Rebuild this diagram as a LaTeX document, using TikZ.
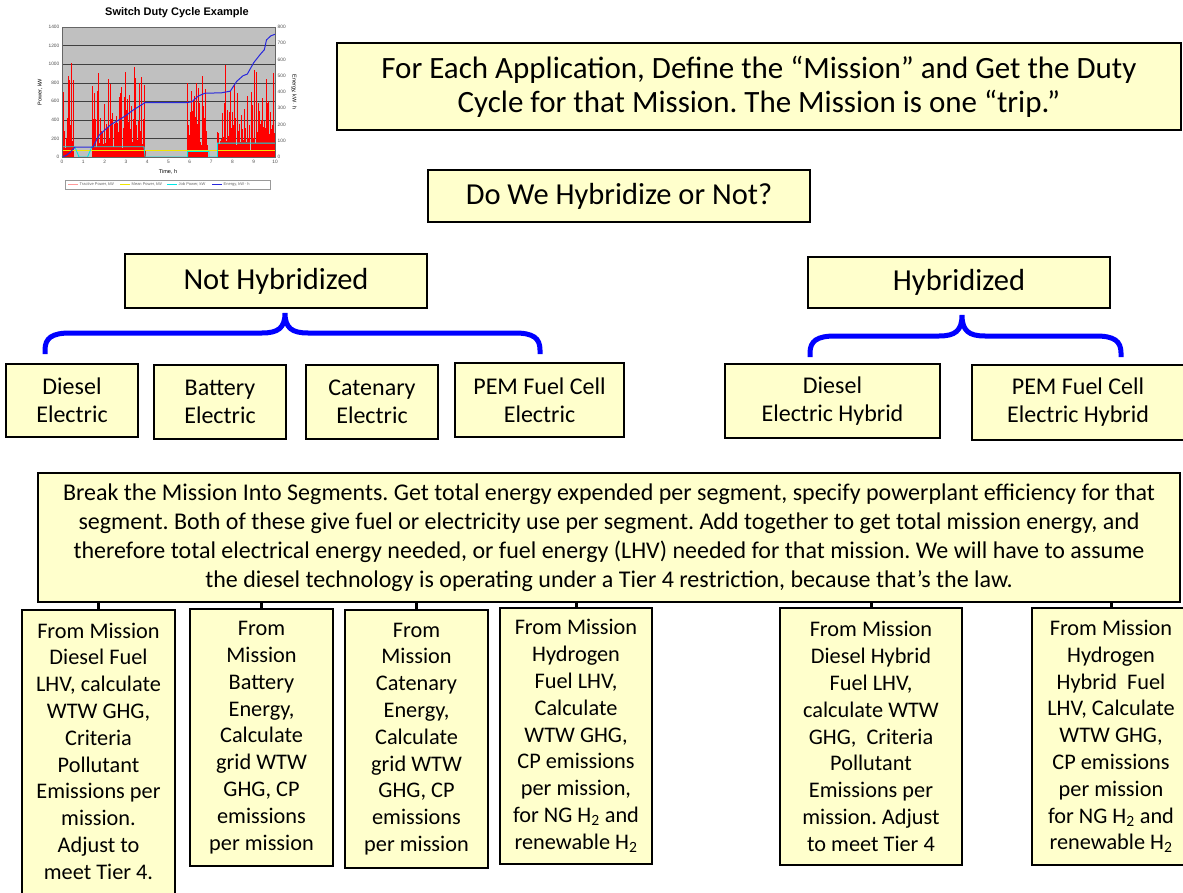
\documentclass[tikz,border=0pt]{standalone}
\usepackage{fontspec}
\setmainfont{Carlito}
\newfontfamily\chartfont{Liberation Sans}
\definecolor{boxfill}{RGB}{255,255,204}
\definecolor{plotgray}{RGB}{192,192,192}
\definecolor{braceblue}{RGB}{0,0,255}
\definecolor{jobcyan}{RGB}{0,230,230}
\definecolor{meanyellow}{RGB}{240,230,0}
\definecolor{energyblue}{RGB}{40,40,220}
\tikzset{
  box/.style={draw=black, line width=1.8pt, fill=boxfill, align=center, inner sep=0pt},
  fhuge/.style={font=\fontsize{31}{34}\selectfont},
  fbig/.style={font=\fontsize{30.5}{36}\selectfont},
  frow/.style={font=\fontsize{24}{28}\selectfont},
  fpara/.style={font=\fontsize{24}{29}\selectfont},
  fcol/.style={font=\fontsize{22.3}{26.8}\selectfont},
  brace/.style={draw=braceblue, line width=5pt},
  stem/.style={draw=black, line width=3pt},
  tick/.style={font=\chartfont\fontsize{4.8}{5}\selectfont, text=black!70, inner sep=0.5pt},
  legtext/.style={font=\chartfont\fontsize{4}{5}\selectfont, text=black!60, inner sep=0.5pt, anchor=west}
}
\begin{document}
\frenchspacing
\begin{tikzpicture}[x=1pt,y=-1pt]
\useasboundingbox (0,0) rectangle (1183,893);
\clip (0,0) rectangle (1183,893);

% ---------- chart ----------
\node[font=\chartfont\bfseries\fontsize{11}{12}\selectfont, inner sep=0pt] (ctitle) at (177,13) {Switch Duty Cycle Example};
\fill[plotgray] (62,27) rectangle (275,157);
\foreach \k in {1,...,6} \draw[black!75, line width=0.3pt] (62,{157-\k*130/7}) -- (275,{157-\k*130/7});
\begin{scope}[shift={(62,157)}, xscale=21.3, yscale=-0.0929]
  \pgfmathsetseed{7}
  \foreach \a/\b in {0/0.55, 1.4/3.9, 5.9/6.85, 7.3/10} {
    \pgfmathtruncatemacro{\N}{(\b-\a)/0.02}
    \foreach \n in {0,...,\N} {
      \pgfmathsetmacro{\t}{\a+0.02*\n}
      \pgfmathsetmacro{\h}{60+1050*rnd*rnd}
      \draw[red, line width=0.45pt] (\t,0) -- (\t,\h);
    }
  }
  \draw[meanyellow, line width=0.8pt] (0,68) -- (10,68);
  \draw[jobcyan, line width=0.9pt] (0,110) -- (0.6,110) -- (0.8,0) -- (1.2,0) -- (1.4,110) -- (3.85,110) -- (3.9,0) -- (5.9,0) -- (5.9,60) -- (6.9,60) -- (6.9,0) -- (7.3,0) -- (7.3,150) -- (10,150);
  \begin{scope}[yscale=1.75]
    \draw[energyblue, line width=1pt] (0,0) -- (0.2,10) -- (0.35,25) -- (0.6,60) -- (1.45,60) -- (1.6,100) -- (1.75,135) -- (2,165) -- (2.3,200) -- (2.7,230) -- (3,255) -- (3.3,285) -- (3.6,310) -- (3.9,335) -- (5.9,335) -- (6.1,340) -- (6.4,375) -- (6.7,392) -- (7.5,395) -- (7.9,405) -- (8.2,465) -- (8.5,500) -- (8.7,510) -- (9,580) -- (9.3,630) -- (9.5,660) -- (9.6,720) -- (9.8,745) -- (10,755);
  \end{scope}
\end{scope}
\draw[black!60, line width=0.4pt] (62,27) rectangle (275,157);
\foreach \v [count=\i] in {0,200,...,1400} \node[tick, anchor=east] (yl\i) at (60,{157-\v*0.0929}) {\v};
\foreach \v [count=\i] in {0,100,...,800} \node[tick, anchor=west] (yr\i) at (277,{157-\v*0.1625}) {\v};
\foreach \v in {0,...,10} \node[tick, anchor=north] (xl\v) at ({62+21.3*\v},159) {\v};
\node[tick, font=\chartfont\fontsize{5.5}{6}\selectfont, text=black] (xt) at (168,172) {Time, h};
\node[tick, font=\chartfont\fontsize{5.5}{6}\selectfont, text=black, rotate=90] (ylt) at (40,92) {Power, kW};
\node[tick, font=\chartfont\fontsize{5.5}{6}\selectfont, text=black, rotate=-90] (yrt) at (294,92) {Energy, kW$\cdot$ h};
\draw[black!40, line width=0.4pt, fill=white] (65,180) rectangle (270,189);
\draw[red!40, line width=0.8pt] (68,184.5) -- (78,184.5);
\node[legtext] (lg1) at (79,184.5) {Tractive Power, kW};
\draw[meanyellow, line width=0.8pt] (120,184.5) -- (130,184.5);
\node[legtext] (lg2) at (131,184.5) {Mean Power, kW};
\draw[jobcyan, line width=0.8pt] (167,184.5) -- (177,184.5);
\node[legtext] (lg3) at (178,184.5) {Job Power, kW};
\draw[energyblue, line width=0.8pt] (212,184.5) -- (222,184.5);
\node[legtext] (lg4) at (223,184.5) {Energy, kW$\cdot$ h};

% ---------- top boxes ----------
\node[box, fhuge, minimum width=844pt, minimum height=87pt] (top) at (759,86.5)
  {For Each Application, Define the “Mission” and Get the Duty\\Cycle for that Mission. The Mission is one “trip.”};
\node[box, fbig, minimum width=382pt, minimum height=52pt] (dowe) at (619,196) {Do We Hybridize or Not?};
\node[box, fbig, minimum width=302pt, minimum height=54pt] (nh) at (276,281) {Not Hybridized};
\node[box, fbig, minimum width=302pt, minimum height=51pt] (hy) at (959,282.5) {Hybridized};

% ---------- braces ----------
\coordinate (lbl) at (45,354);
\coordinate (lbp) at (285,313);
\coordinate (lbr) at (540,354);
\draw[brace] (lbl) -- (45,350) .. controls (45,338) and (52,333) .. (70,333) -- (262,333) .. controls (278,333) and (285,328) .. (lbp) .. controls (285,328) and (292,333) .. (308,333) -- (515,333) .. controls (533,333) and (540,338) .. (540,350) -- (lbr);
\coordinate (rbl) at (810,357);
\coordinate (rbp) at (962,315);
\coordinate (rbr) at (1121,357);
\draw[brace] (rbl) -- (810,353) .. controls (810,341) and (817,336) .. (835,336) -- (939,336) .. controls (955,336) and (962,331) .. (rbp) .. controls (962,331) and (969,336) .. (985,336) -- (1096,336) .. controls (1114,336) and (1121,341) .. (1121,353) -- (rbr);

% ---------- technology row ----------
\node[box, frow, minimum width=132pt, minimum height=73pt] (de) at (72,400.5) {Diesel\\Electric};
\node[box, frow, minimum width=132pt, minimum height=74pt] (be) at (220,402) {Battery\\Electric};
\node[box, frow, minimum width=132pt, minimum height=74pt] (ce) at (372,402) {Catenary\\Electric};
\node[box, frow, minimum width=169pt, minimum height=74pt] (pe) at (539.5,400) {PEM Fuel Cell\\Electric};
\node[box, frow, minimum width=215pt, minimum height=74pt] (dh) at (832.5,401) {Diesel\\Electric Hybrid};
\node[box, frow, minimum width=212pt, minimum height=75pt] (ph) at (1078,402.5) {PEM Fuel Cell\\Electric Hybrid};

% ---------- segment box ----------
\node[box, fpara, minimum width=1142pt, minimum height=129pt] (big) at (609,537.5)
  {Break the Mission Into Segments. Get total energy expended per segment, specify powerplant efficiency for that\\
   segment. Both of these give fuel or electricity use per segment. Add together to get total mission energy, and\\
   therefore total electrical energy needed, or fuel energy (LHV) needed for that mission. We will have to assume\\
   the diesel technology is operating under a Tier 4 restriction, because that’s the law.};

% ---------- result columns ----------
\node[box, fcol, minimum width=153pt, minimum height=300pt] (c1) at (98.5,760)
  {From Mission\\Diesel Fuel\\LHV, calculate\\WTW GHG,\\Criteria\\Pollutant\\Emissions per\\mission.\\Adjust to\\meet Tier 4.\\[-9pt]\mbox{}};
\node[box, fcol, minimum width=143pt, minimum height=257pt] (c2) at (261.5,737.5)
  {From\\Mission\\Battery\\Energy,\\Calculate\\grid WTW\\GHG, CP\\emissions\\per mission};
\node[box, fcol, minimum width=143pt, minimum height=258pt] (c3) at (416.5,739)
  {From\\Mission\\Catenary\\Energy,\\Calculate\\grid WTW\\GHG, CP\\emissions\\per mission};
\node[box, fcol, minimum width=152pt, minimum height=256pt] (c4) at (576,736)
  {From Mission\\Hydrogen\\Fuel LHV,\\Calculate\\WTW GHG,\\CP emissions\\per mission,\\for NG H\textsubscript{2} and\\renewable H\textsubscript{2}};
\node[box, fcol, minimum width=182pt, minimum height=257pt] (c5) at (871,736.5)
  {From Mission\\Diesel Hybrid\\Fuel LHV,\\calculate WTW\\GHG,\ \ Criteria\\Pollutant\\Emissions per\\mission. Adjust\\to meet Tier 4};
\node[box, fcol, minimum width=158pt, minimum height=257pt] (c6) at (1111,736.5)
  {From Mission\\Hydrogen\\Hybrid\ \ Fuel\\LHV, Calculate\\WTW GHG,\\CP emissions\\per mission\\for NG H\textsubscript{2} and\\renewable H\textsubscript{2}};

\foreach \c in {c1,c2,c3,c4,c5,c6} \draw[stem] (big.south -| \c.north) -- (\c.north);
\end{tikzpicture}
\end{document}
